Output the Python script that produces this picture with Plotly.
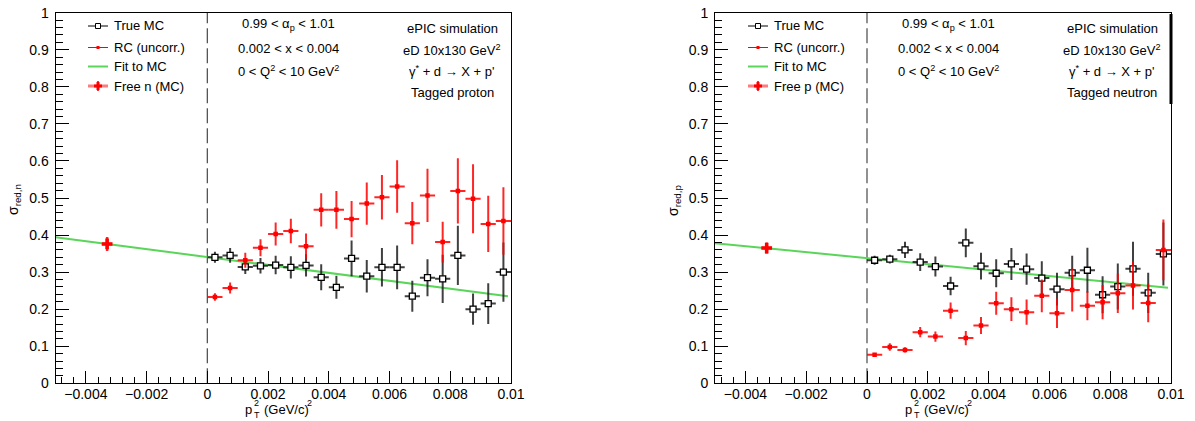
import plotly.graph_objects as go

# ---------------- data ----------------
bin_centers = [0.00025, 0.00075, 0.00125, 0.00175, 0.00225, 0.00275, 0.00325, 0.00375, 0.00425, 0.00475,
               0.00525, 0.00575, 0.00625, 0.00675, 0.00725, 0.00775, 0.00825, 0.00875, 0.00925, 0.00975]
bin_half_width = 0.00025

# Left panel: tagged proton (neutron structure)
n_true_mc = [0.340, 0.345, 0.314, 0.317, 0.319, 0.313, 0.318, 0.286, 0.259, 0.337,
             0.289, 0.313, 0.313, 0.235, 0.285, 0.282, 0.345, 0.200, 0.215, 0.300]
n_true_mc_err = [0.015, 0.020, 0.019, 0.021, 0.025, 0.030, 0.030, 0.035, 0.031, 0.048,
                 0.044, 0.052, 0.059, 0.042, 0.050, 0.065, 0.080, 0.042, 0.055, 0.080]
n_rc = [0.233, 0.257, 0.332, 0.366, 0.403, 0.411, 0.370, 0.468, 0.468, 0.443,
        0.485, 0.502, 0.531, 0.432, 0.507, 0.381, 0.519, 0.498, 0.430, 0.438]
n_rc_err = [0.010, 0.015, 0.020, 0.023, 0.031, 0.033, 0.034, 0.045, 0.051, 0.049,
            0.057, 0.060, 0.071, 0.057, 0.072, 0.055, 0.088, 0.093, 0.076, 0.091]
n_fit_x = [-0.005, 0.0099]
n_fit_y = [0.394, 0.235]
n_free_x = [-0.0033]
n_free_y = [0.376]
n_free_yerr = [0.019]
n_free_xerr = [0.00015]

# Right panel: tagged neutron (proton structure)
p_true_mc = [0.332, 0.335, 0.360, 0.327, 0.315, 0.2625, 0.379, 0.316, 0.297, 0.322,
             0.308, 0.284, 0.254, 0.298, 0.305, 0.239, 0.261, 0.309, 0.244, 0.349]
p_true_mc_err = [0.012, 0.012, 0.022, 0.024, 0.027, 0.025, 0.039, 0.036, 0.038, 0.043,
                 0.042, 0.045, 0.044, 0.046, 0.061, 0.050, 0.062, 0.073, 0.054, 0.085]
p_rc = [0.077, 0.098, 0.090, 0.138, 0.126, 0.196, 0.122, 0.156, 0.216, 0.200,
        0.192, 0.236, 0.189, 0.252, 0.209, 0.219, 0.243, 0.264, 0.217, 0.360]
p_rc_err = [0.005, 0.010, 0.007, 0.014, 0.014, 0.022, 0.019, 0.023, 0.031, 0.032,
            0.034, 0.044, 0.040, 0.058, 0.039, 0.046, 0.053, 0.065, 0.052, 0.082]
p_fit_x = [-0.005, 0.0099]
p_fit_y = [0.378, 0.258]
p_free_x = [-0.0033]
p_free_y = [0.365]
p_free_yerr = [0.015]
p_free_xerr = [0.00015]

x_tickvals = [-0.004, -0.002, 0, 0.002, 0.004, 0.006, 0.008, 0.01]
x_ticktext = ["\u22120.004", "\u22120.002", "0", "0.002", "0.004", "0.006", "0.008", "0.01"]
y_tickvals = [0, 0.1, 0.2, 0.3, 0.4, 0.5, 0.6, 0.7, 0.8, 0.9, 1.0]
y_ticktext = ["0", "0.1", "0.2", "0.3", "0.4", "0.5", "0.6", "0.7", "0.8", "0.9", "1"]

legend_labels_n = ["True MC", "RC (uncorr.)", "Fit to MC", "Free n (MC)"]
legend_labels_p = ["True MC", "RC (uncorr.)", "Fit to MC", "Free p (MC)"]
cut_lines = ["0.99 &lt; \u03b1<sub>p</sub> &lt; 1.01", "0.002 &lt; x &lt; 0.004",
             "0 &lt; Q<sup>2</sup> &lt; 10 GeV<sup>2</sup>"]
info_n = ["ePIC simulation", "eD 10x130 GeV<sup>2</sup>", "\u03b3<sup>*</sup> + d \u2192 X + p'", "Tagged proton"]
info_p = ["ePIC simulation", "eD 10x130 GeV<sup>2</sup>", "\u03b3<sup>*</sup> + d \u2192 X + p'", "Tagged neutron"]

# ---------------- styling ----------------
W, H = 1195, 421
FONT = "Liberation Sans, Arial, Helvetica, sans-serif"
GREEN = "#5ad55a"
BLACK_ERR = "rgba(30,30,30,0.85)"
RED_ERR = "rgba(255,0,0,0.85)"


def px(x):
    return x / W


def py(y):
    return 1 - y / H


fig = go.Figure()


def add_panel(xa, ya, true_mc, true_err, rc, rc_err, fit_x, fit_y, fx, fy, fxe, fye):
    fig.add_trace(go.Scatter(x=fit_x, y=fit_y, mode="lines", line=dict(color=GREEN, width=2),
                             xaxis=xa, yaxis=ya, showlegend=False, hoverinfo="skip"))
    fig.add_trace(go.Scatter(
        x=bin_centers, y=true_mc, mode="markers", xaxis=xa, yaxis=ya, showlegend=False,
        marker=dict(symbol="square", size=6, color="white", line=dict(color="black", width=1.3)),
        error_y=dict(type="data", array=true_err, color=BLACK_ERR, thickness=2, width=0),
        error_x=dict(type="constant", value=bin_half_width, color=BLACK_ERR, thickness=2, width=0)))
    fig.add_trace(go.Scatter(
        x=bin_centers, y=rc, mode="markers", xaxis=xa, yaxis=ya, showlegend=False,
        marker=dict(symbol="square", size=4.5, color="red", line=dict(width=0)),
        error_y=dict(type="data", array=rc_err, color=RED_ERR, thickness=2, width=0),
        error_x=dict(type="constant", value=bin_half_width, color=RED_ERR, thickness=2, width=0)))
    fig.add_trace(go.Scatter(
        x=fx, y=fy, mode="markers", xaxis=xa, yaxis=ya, showlegend=False,
        marker=dict(symbol="cross", size=9, color="red", line=dict(width=0)),
        error_y=dict(type="data", array=fye, color=RED_ERR, thickness=2.5, width=0),
        error_x=dict(type="data", array=fxe, color=RED_ERR, thickness=2.5, width=0)))


add_panel("x", "y", n_true_mc, n_true_mc_err, n_rc, n_rc_err, n_fit_x, n_fit_y,
          n_free_x, n_free_y, n_free_xerr, n_free_yerr)
add_panel("x2", "y2", p_true_mc, p_true_mc_err, p_rc, p_rc_err, p_fit_x, p_fit_y,
          p_free_x, p_free_y, p_free_xerr, p_free_yerr)

y_dom = [py(383.3), py(12.7)]
xdoms = [[px(55.5), px(511)], [px(715), px(1171)]]

axis_common = dict(showgrid=False, zeroline=False, showline=True, mirror=True, linecolor="black",
                   linewidth=1, ticks="inside", tickcolor="black", tickwidth=1, automargin=False,
                   tickfont=dict(family=FONT, size=14, color="black"))

xa_cfg = dict(axis_common, range=[-0.005, 0.01], tickmode="array", tickvals=x_tickvals,
              ticktext=x_ticktext, ticklen=12, ticklabelstandoff=-2,
              minor=dict(ticks="inside", ticklen=6, dtick=0.0004, tick0=0, tickcolor="black", showgrid=False))
ya_cfg = dict(axis_common, range=[0, 1], tickmode="array", tickvals=y_tickvals,
              ticktext=y_ticktext, ticklen=13, ticklabelstandoff=3,
              minor=dict(ticks="inside", ticklen=7, dtick=0.02, tick0=0, tickcolor="black", showgrid=False))

fig.update_layout(
    width=W, height=H, margin=dict(l=0, r=0, t=0, b=0, autoexpand=False),
    paper_bgcolor="white", plot_bgcolor="white",
    font=dict(family=FONT, size=14, color="black"),
    xaxis=dict(xa_cfg, domain=xdoms[0], anchor="y"),
    yaxis=dict(ya_cfg, domain=y_dom, anchor="x"),
    xaxis2=dict(xa_cfg, domain=xdoms[1], anchor="y2"),
    yaxis2=dict(ya_cfg, domain=y_dom, anchor="x2"),
)

shapes = []
annotations = []


def ann(x, y, text, size, xanchor="left", yanchor="middle", angle=0):
    annotations.append(dict(xref="paper", yref="paper", x=px(x), y=py(y), text=text,
                            showarrow=False, xanchor=xanchor, yanchor=yanchor, textangle=angle,
                            borderpad=0,
                            font=dict(family=FONT, size=size, color="black")))


for i, (xa, ya, dx, labels, info, ylab) in enumerate([
        ("x", "y", 0, legend_labels_n, info_n, "\u03c3<sub>red,n</sub>"),
        ("x2", "y2", 660, legend_labels_p, info_p, "\u03c3<sub>red,p</sub>")]):
    # dashed vertical line at pT^2 = 0
    shapes.append(dict(type="line", xref=xa, yref=ya, x0=0, x1=0, y0=0, y1=1, layer="below",
                       line=dict(color="#555555", width=1.3, dash="15px,5px")))
    # legend glyphs
    rows = [26, 47.5, 66.5, 86]
    x0, x1, xc = 88 + dx, 108 + dx, 98 + dx
    shapes.append(dict(type="line", xref="paper", yref="paper", x0=px(x0), x1=px(x1),
                       y0=py(rows[0]), y1=py(rows[0]), line=dict(color="black", width=1)))
    shapes.append(dict(type="rect", xref="paper", yref="paper", x0=px(xc - 2.5), x1=px(xc + 2.5),
                       y0=py(rows[0] + 2.5), y1=py(rows[0] - 2.5), fillcolor="white",
                       line=dict(color="black", width=1)))
    shapes.append(dict(type="line", xref="paper", yref="paper", x0=px(x0), x1=px(x1),
                       y0=py(rows[1]), y1=py(rows[1]), line=dict(color="red", width=1)))
    shapes.append(dict(type="rect", xref="paper", yref="paper", x0=px(xc - 1.5), x1=px(xc + 1.5),
                       y0=py(rows[1] + 1.5), y1=py(rows[1] - 1.5), fillcolor="red",
                       line=dict(color="red", width=0)))
    shapes.append(dict(type="line", xref="paper", yref="paper", x0=px(x0), x1=px(x1),
                       y0=py(rows[2]), y1=py(rows[2]), line=dict(color=GREEN, width=2)))
    shapes.append(dict(type="line", xref="paper", yref="paper", x0=px(x0), x1=px(x1),
                       y0=py(rows[3]), y1=py(rows[3]), line=dict(color="rgba(255,80,80,0.75)", width=3)))
    shapes.append(dict(type="line", xref="paper", yref="paper", x0=px(xc), x1=px(xc),
                       y0=py(rows[3] - 5), y1=py(rows[3] + 5), line=dict(color="rgba(255,0,0,0.8)", width=2)))
    shapes.append(dict(type="line", xref="paper", yref="paper", x0=px(xc - 4), x1=px(xc + 4),
                       y0=py(rows[3]), y1=py(rows[3]), line=dict(color="red", width=3)))
    shapes.append(dict(type="line", xref="paper", yref="paper", x0=px(xc), x1=px(xc),
                       y0=py(rows[3] - 4), y1=py(rows[3] + 4), line=dict(color="red", width=3)))
    for r, lab in zip(rows, labels):
        ann(113 + dx, r, lab, 13)
    # cut text
    for r, t in zip([25, 48, 71], cut_lines):
        ann(288 + dx, r, t, 13, xanchor="center")
    for r, t in zip([28, 49.5, 71, 93], info):
        ann(452 + dx, r, t, 13, xanchor="center")
    # y-axis title
    ann(14 + dx, 200, ylab, 14, xanchor="center", angle=-90)
    # x-axis title: p with stacked T (sub) and 2 (sup), then (GeV/c)^2
    ann(244 + dx, 409, "p", 13)
    ann(252.5 + dx, 403, "2", 9)
    ann(252.5 + dx, 415, "T", 9)
    ann(263 + dx, 409, "(GeV/c)", 13)
    ann(305.5 + dx, 403, "2", 9)

# thicker frame segment at right of second panel's text box
shapes.append(dict(type="line", xref="paper", yref="paper", x0=px(1171), x1=px(1171),
                   y0=py(14), y1=py(104), line=dict(color="black", width=3)))

fig.update_layout(shapes=shapes, annotations=annotations)
fig.write_html("out.html")
